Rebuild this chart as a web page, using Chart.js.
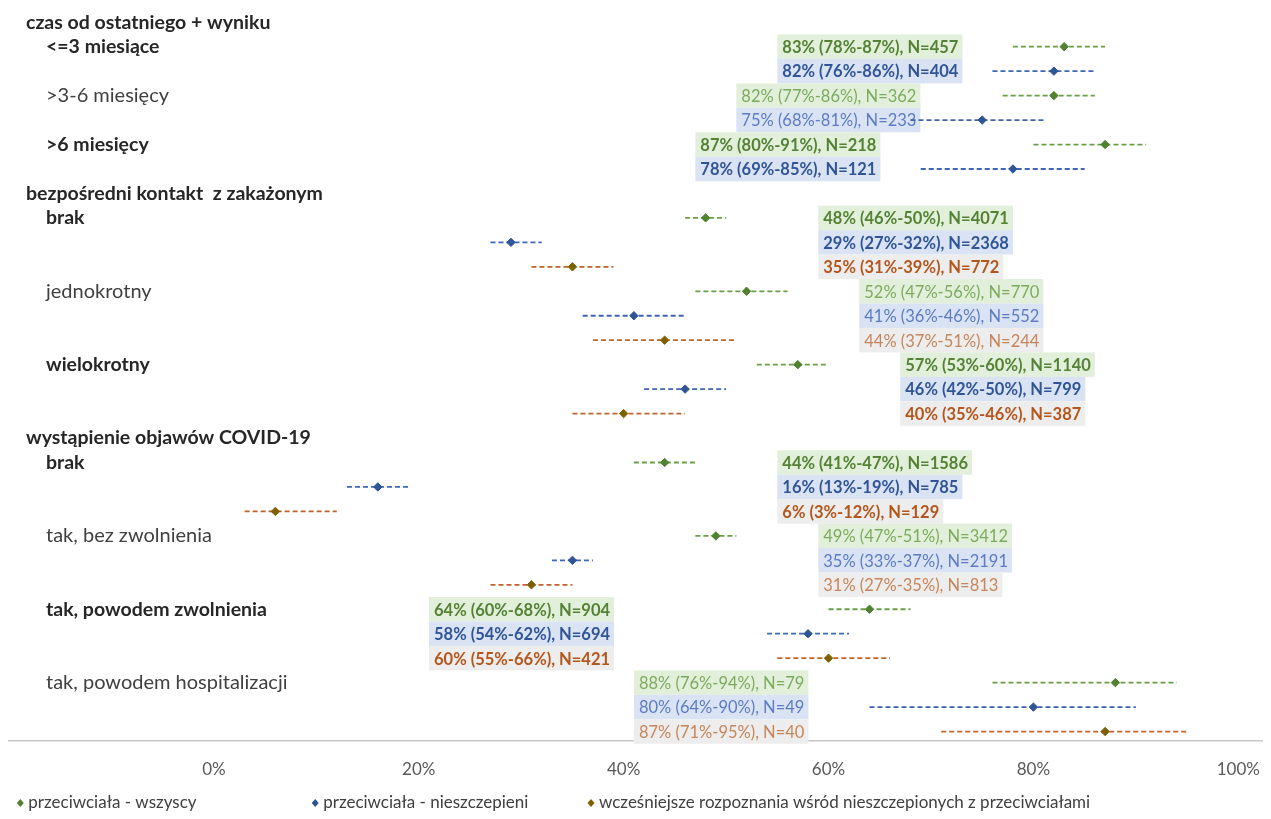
<!DOCTYPE html>
<html lang="pl">
<head>
<meta charset="utf-8">
<title>Przeciwciała</title>
<script src="https://cdn.jsdelivr.net/npm/chart.js@4.4.1/dist/chart.umd.min.js"></script>
<style>
html, body { margin: 0; padding: 0; background: #fff; }
#wrap { width: 1271px; height: 819px; position: relative; }
</style>
</head>
<body>
<div id="wrap"><canvas id="myChart"></canvas></div>
<script>
// --- data ---
const sections = ['czas od ostatniego + wyniku', 'bezpośredni kontakt  z zakażonym', 'wystąpienie objawów COVID-19'];
const subgroups = ['<=3 miesiące', '>3-6 miesięcy', '>6 miesięcy', 'brak', 'jednokrotny', 'wielokrotny',
  'brak', 'tak, bez zwolnienia', 'tak, powodem zwolnienia', 'tak, powodem hospitalizacji'];
const sectionOf = [0, 0, 0, 1, 1, 1, 2, 2, 2, 2];

const seriesNames = ['przeciwciała - wszyscy', 'przeciwciała - nieszczepieni',
  'wcześniejsze rozpoznania wśród nieszczepionych z przeciwciałami'];

const allVal = [83, 82, 87, 48, 52, 57, 44, 49, 64, 88];
const allLo  = [78, 77, 80, 46, 47, 53, 41, 47, 60, 76];
const allHi  = [87, 86, 91, 50, 56, 60, 47, 51, 68, 94];
const allN   = [457, 362, 218, 4071, 770, 1140, 1586, 3412, 904, 79];

const unvVal = [82, 75, 78, 29, 41, 46, 16, 35, 58, 80];
const unvLo  = [76, 68, 69, 27, 36, 42, 13, 33, 54, 64];
const unvHi  = [86, 81, 85, 32, 46, 50, 19, 37, 62, 90];
const unvN   = [404, 233, 121, 2368, 552, 799, 785, 2191, 694, 49];

const prevVal = [null, null, null, 35, 44, 40, 6, 31, 60, 87];
const prevLo  = [null, null, null, 31, 37, 35, 3, 27, 55, 71];
const prevHi  = [null, null, null, 39, 51, 46, 12, 35, 66, 95];
const prevN   = [null, null, null, 772, 244, 387, 129, 813, 421, 40];

const xTicks = [0, 20, 40, 60, 80, 100];

// --- styling ---
const boldGroup  = [true, false, true, true, false, true, true, false, true, false];
const labelStart = [55, 51, 47, 59, 63, 67, 55, 59, 21, 41]; // % where the value box begins
const lineColors = ['#68a044', '#3e66b6', '#c2622c'];
const markColors = ['#4f8131', '#2f5597', '#7f6000'];
const boxColors  = ['#e2efda', '#dae3f3', '#ededed'];
const textBold   = ['#548235', '#2f5597', '#b4561c'];
const textLight  = ['#7dab5e', '#5b7cc4', '#c6855a'];
const legendSpots = [0.016, 0.248, 0.465];

const series = [
  { val: allVal, lo: allLo, hi: allHi, n: allN },
  { val: unvVal, lo: unvLo, hi: unvHi, n: unvN },
  { val: prevVal, lo: prevLo, hi: prevHi, n: prevN }
];

// lay the groups out in rows, top to bottom
const rowLabels = [];
const valueRows = [];
let row = 0;
let lastSection = -1;
subgroups.forEach(function (name, g) {
  if (sectionOf[g] !== lastSection) {
    lastSection = sectionOf[g];
    rowLabels.push({ text: sections[lastSection], row: row, header: true, bold: true });
    row++;
  }
  rowLabels.push({ text: name, row: row, header: false, bold: boldGroup[g] });
  series.forEach(function (s, k) {
    if (s.val[g] === null) return;
    valueRows.push({ s: k, g: g, row: row });
    row++;
  });
});
const rowCount = row;

const datasets = [];
series.forEach(function (s, k) {
  const ci = [];
  const pts = [];
  valueRows.filter(v => v.s === k).forEach(function (v) {
    ci.push({ x: s.lo[v.g], y: v.row }, { x: s.hi[v.g], y: v.row }, { x: null, y: null });
    pts.push({ x: s.val[v.g], y: v.row });
  });
  datasets.push({
    label: seriesNames[k], data: pts, pointStyle: 'rectRot', pointRadius: 4.2,
    backgroundColor: markColors[k], borderColor: markColors[k], borderWidth: 1, order: 0
  });
  datasets.push({
    label: 'ci', data: ci, showLine: true, pointRadius: 0, borderColor: lineColors[k],
    borderWidth: 1.8, borderDash: [5, 3], spanGaps: false, order: 1
  });
});

// category names on the left
const rowText = {
  id: 'rowText',
  afterDraw(chart) {
    const { ctx, chartArea, scales: { y } } = chart;
    ctx.save();
    ctx.textBaseline = 'middle';
    rowLabels.forEach(function (l) {
      ctx.font = (l.bold ? 'bold 19.5px' : '20px') + ' Lato';
      ctx.fillStyle = l.bold ? '#262626' : '#404040';
      ctx.fillText(l.text, chartArea.left + (l.header ? 17 : 37), y.getPixelForValue(l.row));
    });
    ctx.restore();
  }
};

// coloured value boxes
const valueBoxes = {
  id: 'valueBoxes',
  beforeDatasetsDraw(chart) {
    const { ctx, scales: { x, y } } = chart;
    const h = Math.abs(y.getPixelForValue(1) - y.getPixelForValue(0));
    ctx.save();
    ctx.textBaseline = 'middle';
    valueRows.forEach(function (v) {
      const s = series[v.s];
      const txt = s.val[v.g] + '% (' + s.lo[v.g] + '%-' + s.hi[v.g] + '%), N=' + s.n[v.g];
      ctx.font = (boldGroup[v.g] ? 'bold ' : '') + '16.5px Lato';
      const w = ctx.measureText(txt).width + 9;
      const left = x.getPixelForValue(labelStart[v.g]);
      const cy = y.getPixelForValue(v.row);
      ctx.fillStyle = boxColors[v.s];
      ctx.fillRect(left, cy - h / 2, w, h);
      ctx.fillStyle = boldGroup[v.g] ? textBold[v.s] : textLight[v.s];
      ctx.fillText(txt, left + 5, cy + 1);
    });
    ctx.restore();
  }
};

// legend spread along the bottom
const bottomLegend = {
  id: 'bottomLegend',
  afterDraw(chart) {
    const { ctx, width, height } = chart;
    ctx.save();
    ctx.font = '17px Lato';
    ctx.textBaseline = 'middle';
    seriesNames.forEach(function (name, k) {
      const cx = width * legendSpots[k];
      const cy = height - 16;
      ctx.fillStyle = markColors[k];
      ctx.beginPath();
      ctx.moveTo(cx, cy - 4);
      ctx.lineTo(cx + 3.5, cy);
      ctx.lineTo(cx, cy + 4);
      ctx.lineTo(cx - 3.5, cy);
      ctx.closePath();
      ctx.fill();
      ctx.fillStyle = '#404040';
      ctx.fillText(name, cx + 8, cy);
    });
    ctx.restore();
  }
};

Chart.defaults.font.family = 'Lato';

const myChart = new Chart(document.getElementById('myChart'), {
  type: 'scatter',
  data: { datasets: datasets },
  options: {
    responsive: true,
    maintainAspectRatio: false,
    animation: false,
    layout: { padding: { left: 9, right: 0, top: 10, bottom: 28 } },
    plugins: { legend: { display: false }, tooltip: { enabled: false } },
    scales: {
      x: {
        type: 'linear', min: -20, max: 102.4,
        afterBuildTicks: function (axis) { axis.ticks = xTicks.map(v => ({ value: v })); },
        ticks: { callback: v => v + '%', color: '#595959', font: { size: 17 }, padding: 11, maxRotation: 0 },
        grid: { display: false },
        border: { color: '#c8c8c8', width: 1.5 }
      },
      y: {
        type: 'linear', reverse: true, min: -0.5, max: rowCount - 0.63, display: false
      }
    }
  },
  plugins: [valueBoxes, rowText, bottomLegend]
});
</script>
</body>
</html>
